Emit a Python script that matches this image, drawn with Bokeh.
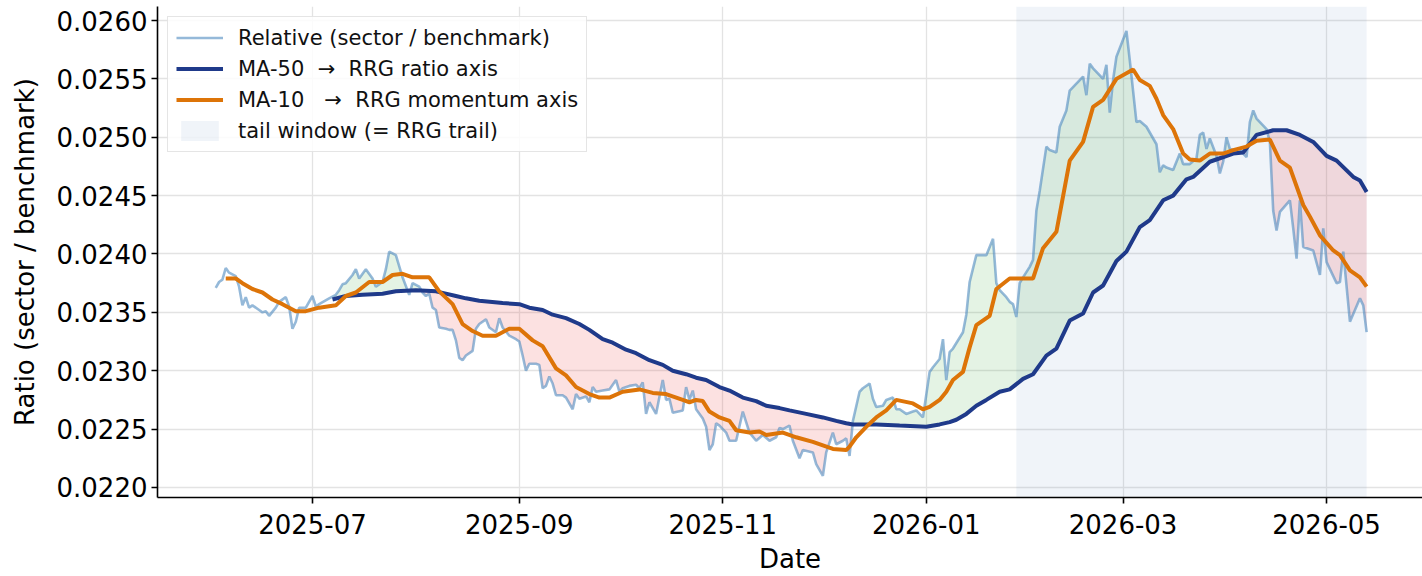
import numpy as np
import pandas as pd
from bokeh.plotting import figure
from bokeh.models import (Range1d, SingleIntervalTicker, NumeralTickFormatter,
                          DatetimeTickFormatter, MonthsTicker, Legend, LegendItem)
from bokeh.embed import file_html
from bokeh.resources import INLINE

# ---------------- data ----------------
rel_dates = [
    "2025-06-02", "2025-06-03", "2025-06-04", "2025-06-05", "2025-06-06", "2025-06-08", "2025-06-09",
    "2025-06-10", "2025-06-11", "2025-06-12", "2025-06-13", "2025-06-15", "2025-06-16", "2025-06-17",
    "2025-06-18", "2025-06-20", "2025-06-21", "2025-06-23", "2025-06-24", "2025-06-25", "2025-06-26",
    "2025-06-27", "2025-06-29", "2025-07-01", "2025-07-02", "2025-07-03", "2025-07-06", "2025-07-08",
    "2025-07-09", "2025-07-10", "2025-07-11", "2025-07-13", "2025-07-14", "2025-07-15", "2025-07-17",
    "2025-07-19", "2025-07-20", "2025-07-22", "2025-07-23", "2025-07-24", "2025-07-26", "2025-07-28",
    "2025-07-30", "2025-07-31", "2025-08-02", "2025-08-03", "2025-08-04", "2025-08-05", "2025-08-06",
    "2025-08-07", "2025-08-08", "2025-08-10", "2025-08-11", "2025-08-12", "2025-08-13", "2025-08-14",
    "2025-08-15", "2025-08-16", "2025-08-18", "2025-08-19", "2025-08-20", "2025-08-22", "2025-08-23",
    "2025-08-25", "2025-08-26", "2025-08-27", "2025-08-29", "2025-08-31", "2025-09-01", "2025-09-02",
    "2025-09-03", "2025-09-04", "2025-09-06", "2025-09-07", "2025-09-08", "2025-09-09", "2025-09-10",
    "2025-09-11", "2025-09-12", "2025-09-14", "2025-09-15", "2025-09-17", "2025-09-18", "2025-09-19",
    "2025-09-21", "2025-09-22", "2025-09-23", "2025-09-24", "2025-09-26", "2025-09-28", "2025-09-30",
    "2025-10-01", "2025-10-02", "2025-10-04", "2025-10-06", "2025-10-07", "2025-10-08", "2025-10-09",
    "2025-10-10", "2025-10-12", "2025-10-14", "2025-10-15", "2025-10-16", "2025-10-17", "2025-10-20",
    "2025-10-21", "2025-10-22", "2025-10-23", "2025-10-24", "2025-10-26", "2025-10-27", "2025-10-28",
    "2025-10-29", "2025-10-30", "2025-10-31", "2025-11-02", "2025-11-03", "2025-11-05", "2025-11-07",
    "2025-11-08", "2025-11-09", "2025-11-11", "2025-11-13", "2025-11-15", "2025-11-17", "2025-11-18",
    "2025-11-19", "2025-11-21", "2025-11-22", "2025-11-24", "2025-11-25", "2025-11-28", "2025-11-29",
    "2025-12-01", "2025-12-02", "2025-12-04", "2025-12-05", "2025-12-07", "2025-12-08", "2025-12-09",
    "2025-12-10", "2025-12-12", "2025-12-13", "2025-12-15", "2025-12-16", "2025-12-17", "2025-12-19",
    "2025-12-20", "2025-12-22", "2025-12-23", "2025-12-24", "2025-12-26", "2025-12-28", "2025-12-29",
    "2025-12-31", "2026-01-02", "2026-01-03", "2026-01-05", "2026-01-06", "2026-01-07", "2026-01-08",
    "2026-01-09", "2026-01-12", "2026-01-13", "2026-01-14", "2026-01-16", "2026-01-19", "2026-01-21",
    "2026-01-22", "2026-01-23", "2026-01-25", "2026-01-26", "2026-01-27", "2026-01-28", "2026-01-29",
    "2026-01-30", "2026-02-01", "2026-02-02", "2026-02-03", "2026-02-04", "2026-02-06", "2026-02-07",
    "2026-02-09", "2026-02-10", "2026-02-12", "2026-02-13", "2026-02-15", "2026-02-17", "2026-02-18",
    "2026-02-19", "2026-02-20", "2026-02-23", "2026-02-24", "2026-02-25", "2026-02-26", "2026-02-27",
    "2026-03-02", "2026-03-03", "2026-03-05", "2026-03-06", "2026-03-08", "2026-03-11", "2026-03-12",
    "2026-03-13", "2026-03-14", "2026-03-16", "2026-03-18", "2026-03-19", "2026-03-21", "2026-03-23",
    "2026-03-24", "2026-03-25", "2026-03-26", "2026-03-27", "2026-03-29", "2026-03-30", "2026-03-31",
    "2026-04-01", "2026-04-02", "2026-04-03", "2026-04-05", "2026-04-06", "2026-04-07", "2026-04-08",
    "2026-04-09", "2026-04-10", "2026-04-12", "2026-04-13", "2026-04-14", "2026-04-15", "2026-04-16",
    "2026-04-17", "2026-04-20", "2026-04-21", "2026-04-22", "2026-04-23", "2026-04-24", "2026-04-27",
    "2026-04-29", "2026-04-30", "2026-05-01", "2026-05-04", "2026-05-05", "2026-05-06", "2026-05-08",
    "2026-05-11", "2026-05-12", "2026-05-13",
]
rel_values = [
    0.02371, 0.02376, 0.02378, 0.02388, 0.02384, 0.02381, 0.02372,
    0.02356, 0.02363, 0.02354, 0.02356, 0.02352, 0.02350, 0.02351,
    0.02347, 0.02354, 0.02359, 0.02363, 0.02355, 0.02336, 0.02342,
    0.02354, 0.02354, 0.02364, 0.02355, 0.02357, 0.02362, 0.02365,
    0.02369, 0.02374, 0.02375, 0.02382, 0.02387, 0.02379, 0.02387,
    0.02379, 0.02372, 0.02376, 0.02387, 0.02402, 0.02399, 0.02380,
    0.02365, 0.02375, 0.02372, 0.02367, 0.02364, 0.02366, 0.02354,
    0.02352, 0.02337, 0.02336, 0.02335, 0.02335, 0.02326, 0.02311,
    0.02309, 0.02313, 0.02317, 0.02336, 0.02340, 0.02344, 0.02337,
    0.02333, 0.02345, 0.02337, 0.02330, 0.02327, 0.02325, 0.02313,
    0.02300, 0.02306, 0.02306, 0.02305, 0.02285, 0.02287, 0.02295,
    0.02289, 0.02279, 0.02279, 0.02277, 0.02267, 0.02280, 0.02276,
    0.02278, 0.02273, 0.02286, 0.02282, 0.02283, 0.02284, 0.02292,
    0.02282, 0.02285, 0.02287, 0.02288, 0.02285, 0.02290, 0.02263,
    0.02273, 0.02263, 0.02292, 0.02275, 0.02276, 0.02264, 0.02266,
    0.02286, 0.02275, 0.02283, 0.02267, 0.02259, 0.02252, 0.02232,
    0.02237, 0.02255, 0.02253, 0.02247, 0.02240, 0.02240, 0.02265,
    0.02256, 0.02247, 0.02240, 0.02245, 0.02240, 0.02243, 0.02251,
    0.02250, 0.02253, 0.02240, 0.02225, 0.02232, 0.02230, 0.02220,
    0.02210, 0.02230, 0.02247, 0.02237, 0.02240, 0.02242, 0.02227,
    0.02257, 0.02282, 0.02285, 0.02289, 0.02276, 0.02269, 0.02270,
    0.02275, 0.02277, 0.02267, 0.02267, 0.02263, 0.02265, 0.02266,
    0.02260, 0.02299, 0.02303, 0.02310, 0.02327, 0.02292, 0.02316,
    0.02319, 0.02333, 0.02348, 0.02376, 0.02399, 0.02399, 0.02413,
    0.02375, 0.02369, 0.02363, 0.02359, 0.02357, 0.02346, 0.02375,
    0.02380, 0.02389, 0.02395, 0.02437, 0.02454, 0.02492, 0.02489,
    0.02487, 0.02509, 0.02523, 0.02540, 0.02546, 0.02552, 0.02536,
    0.02563, 0.02559, 0.02550, 0.02562, 0.02521, 0.02549, 0.02569,
    0.02591, 0.02566, 0.02513, 0.02514, 0.02509, 0.02494, 0.02470,
    0.02476, 0.02474, 0.02472, 0.02486, 0.02477, 0.02477, 0.02482,
    0.02502, 0.02504, 0.02490, 0.02499, 0.02484, 0.02469, 0.02479,
    0.02500, 0.02490, 0.02489, 0.02490, 0.02486, 0.02483, 0.02513,
    0.02523, 0.02516, 0.02510, 0.02507, 0.02496, 0.02437, 0.02420,
    0.02436, 0.02446, 0.02422, 0.02396, 0.02446, 0.02406, 0.02403,
    0.02382, 0.02422, 0.02393, 0.02375, 0.02376, 0.02402, 0.02342,
    0.02362, 0.02356, 0.02333,
]

ma50_dates = [
    "2025-07-07", "2025-07-11", "2025-07-16", "2025-07-22", "2025-07-26", "2025-08-01", "2025-08-07",
    "2025-08-10", "2025-08-13", "2025-08-16", "2025-08-20", "2025-08-27", "2025-09-01", "2025-09-04",
    "2025-09-08", "2025-09-11", "2025-09-15", "2025-09-19", "2025-09-22", "2025-09-26", "2025-09-29",
    "2025-10-03", "2025-10-06", "2025-10-10", "2025-10-14", "2025-10-17", "2025-10-21", "2025-10-24",
    "2025-10-27", "2025-10-31", "2025-11-03", "2025-11-07", "2025-11-11", "2025-11-14", "2025-11-18",
    "2025-11-21", "2025-11-26", "2025-12-01", "2025-12-05", "2025-12-08", "2025-12-10", "2025-12-17",
    "2025-12-24", "2026-01-01", "2026-01-05", "2026-01-08", "2026-01-10", "2026-01-13", "2026-01-16",
    "2026-01-19", "2026-01-23", "2026-01-26", "2026-01-30", "2026-02-02", "2026-02-06", "2026-02-09",
    "2026-02-13", "2026-02-17", "2026-02-20", "2026-02-23", "2026-02-27", "2026-03-02", "2026-03-06",
    "2026-03-09", "2026-03-13", "2026-03-16", "2026-03-20", "2026-03-22", "2026-03-27", "2026-03-30",
    "2026-04-03", "2026-04-06", "2026-04-10", "2026-04-15", "2026-04-19", "2026-04-23", "2026-04-27",
    "2026-05-01", "2026-05-04", "2026-05-09", "2026-05-11", "2026-05-13",
]
ma50_values = [
    0.02361, 0.02364, 0.02365, 0.02366, 0.02368, 0.02369, 0.02368,
    0.02366, 0.02364, 0.02362, 0.02360, 0.02358, 0.02357, 0.02354,
    0.02352, 0.02348, 0.02345, 0.02340, 0.02335, 0.02327, 0.02324,
    0.02318, 0.02315, 0.02309, 0.02305, 0.02300, 0.02297, 0.02294,
    0.02292, 0.02286, 0.02283, 0.02277, 0.02274, 0.02270, 0.02268,
    0.02266, 0.02263, 0.02260, 0.02257, 0.02255, 0.02254, 0.02254,
    0.02253, 0.02252, 0.02254, 0.02256, 0.02258, 0.02263, 0.02270,
    0.02275, 0.02282, 0.02284, 0.02293, 0.02297, 0.02313, 0.02319,
    0.02343, 0.02349, 0.02367, 0.02373, 0.02394, 0.02402, 0.02423,
    0.02429, 0.02446, 0.02450, 0.02464, 0.02466, 0.02479, 0.02482,
    0.02486, 0.02487, 0.02502, 0.02506, 0.02506, 0.02502, 0.02496,
    0.02484, 0.02480, 0.02466, 0.02463, 0.02453,
]

ma10_dates = [
    "2025-06-05", "2025-06-08", "2025-06-10", "2025-06-13", "2025-06-16", "2025-06-19", "2025-06-22",
    "2025-06-24", "2025-06-26", "2025-06-29", "2025-07-03", "2025-07-08", "2025-07-11", "2025-07-14",
    "2025-07-18", "2025-07-22", "2025-07-25", "2025-07-28", "2025-07-31", "2025-08-05", "2025-08-08",
    "2025-08-12", "2025-08-15", "2025-08-18", "2025-08-21", "2025-08-25", "2025-08-29", "2025-09-01",
    "2025-09-05", "2025-09-08", "2025-09-12", "2025-09-15", "2025-09-18", "2025-09-22", "2025-09-25",
    "2025-09-28", "2025-10-02", "2025-10-07", "2025-10-11", "2025-10-15", "2025-10-20", "2025-10-22",
    "2025-10-24", "2025-10-26", "2025-10-28", "2025-10-31", "2025-11-03", "2025-11-05", "2025-11-09",
    "2025-11-12", "2025-11-14", "2025-11-19", "2025-11-23", "2025-11-28", "2025-12-01", "2025-12-04",
    "2025-12-08", "2025-12-09", "2025-12-11", "2025-12-14", "2025-12-17", "2025-12-20", "2025-12-23",
    "2025-12-28", "2025-12-31", "2026-01-02", "2026-01-05", "2026-01-07", "2026-01-09", "2026-01-12",
    "2026-01-14", "2026-01-16", "2026-01-20", "2026-01-22", "2026-01-26", "2026-02-02", "2026-02-05",
    "2026-02-09", "2026-02-13", "2026-02-17", "2026-02-20", "2026-02-23", "2026-02-27", "2026-03-04",
    "2026-03-06", "2026-03-09", "2026-03-11", "2026-03-13", "2026-03-16", "2026-03-19", "2026-03-21",
    "2026-03-24", "2026-03-27", "2026-03-31", "2026-04-03", "2026-04-07", "2026-04-10", "2026-04-14",
    "2026-04-17", "2026-04-20", "2026-04-24", "2026-04-26", "2026-04-29", "2026-05-03", "2026-05-05",
    "2026-05-08", "2026-05-11", "2026-05-13",
]
ma10_values = [
    0.02379, 0.02379, 0.02375, 0.02370, 0.02367, 0.02361, 0.02357,
    0.02354, 0.02351, 0.02351, 0.02354, 0.02356, 0.02364, 0.02367,
    0.02376, 0.02376, 0.02382, 0.02383, 0.02380, 0.02380, 0.02368,
    0.02357, 0.02340, 0.02334, 0.02330, 0.02330, 0.02336, 0.02336,
    0.02326, 0.02321, 0.02302, 0.02296, 0.02286, 0.02280, 0.02277,
    0.02277, 0.02282, 0.02284, 0.02281, 0.02280, 0.02275, 0.02273,
    0.02275, 0.02274, 0.02265, 0.02260, 0.02257, 0.02249, 0.02247,
    0.02248, 0.02245, 0.02247, 0.02243, 0.02239, 0.02236, 0.02233,
    0.02232, 0.02235, 0.02243, 0.02252, 0.02260, 0.02266, 0.02275,
    0.02272, 0.02267, 0.02269, 0.02275, 0.02282, 0.02292, 0.02299,
    0.02320, 0.02339, 0.02347, 0.02370, 0.02379, 0.02379, 0.02405,
    0.02419, 0.02480, 0.02496, 0.02526, 0.02532, 0.02550, 0.02558,
    0.02549, 0.02544, 0.02533, 0.02519, 0.02507, 0.02486, 0.02481,
    0.02480, 0.02486, 0.02486, 0.02489, 0.02492, 0.02497, 0.02498,
    0.02480, 0.02474, 0.02442, 0.02432, 0.02416, 0.02403, 0.02399,
    0.02386, 0.02380, 0.02372,
]

tail_window = ["2026-01-28", "2026-05-13"]
y_tick_step = 0.0005
x_tick_months = [0, 2, 4, 6, 8, 10]

labels = ["Relative (sector / benchmark)", "MA-50  \u2192  RRG ratio axis",
          "MA-10   \u2192  RRG momentum axis", "tail window (= RRG trail)"]

# ---------------- styling ----------------
FONT = "DejaVu Sans"
C_REL = "#4f8bc0"
C_MA50 = "#1f3a8a"
C_MA10 = "#dd7408"
C_GREEN = "#2ca02c"
C_RED = "#ef4444"
C_TAIL = "#3b6db3"

rel_t = pd.to_datetime(rel_dates)
ma50_t = pd.to_datetime(ma50_dates)
ma10_t = pd.to_datetime(ma10_dates)

def ms(t):
    return (pd.DatetimeIndex(t).asi8 // 10**6).astype(float)

rel_ms, ma50_ms = ms(rel_t), ms(ma50_t)
rel_v = np.array(rel_values)
ma50_v = np.array(ma50_values)

# fill between relative and MA-50 (where MA-50 exists)
grid = np.union1d(rel_ms[(rel_ms >= ma50_ms[0]) & (rel_ms <= ma50_ms[-1])], ma50_ms)
r = np.interp(grid, rel_ms, rel_v)
m = np.interp(grid, ma50_ms, ma50_v)
xs, rs, msv = [grid[0]], [r[0]], [m[0]]
for i in range(1, len(grid)):
    d0, d1 = r[i - 1] - m[i - 1], r[i] - m[i]
    if d0 * d1 < 0:
        t = d0 / (d0 - d1)
        xc = grid[i - 1] + t * (grid[i] - grid[i - 1])
        yc = m[i - 1] + t * (m[i] - m[i - 1])
        xs.append(xc); rs.append(yc); msv.append(yc)
    xs.append(grid[i]); rs.append(r[i]); msv.append(m[i])
xs, rs, msv = np.array(xs), np.array(rs), np.array(msv)

# ranges (matching the reference's scale)
x_start = pd.Timestamp("2025-05-15 13:00")
x_end = pd.Timestamp("2026-05-29 18:00")
y_start, y_end = 0.021914, 0.026120

p = figure(width=1422, height=576, x_axis_type="datetime",
           x_range=Range1d(x_start, x_end), y_range=Range1d(y_start, y_end),
           output_backend="svg", toolbar_location=None,
           min_border_left=157, min_border_right=0, min_border_top=6, min_border_bottom=79)
p.outline_line_color = None
p.background_fill_color = "white"

# tail window
tail = p.quad(left=[pd.Timestamp(tail_window[0])], right=[pd.Timestamp(tail_window[1])],
              bottom=[y_start], top=[y_end], fill_color=C_TAIL, fill_alpha=0.075,
              line_color=None)

p.varea(x=xs, y1=msv, y2=np.maximum(rs, msv), fill_color=C_GREEN, fill_alpha=0.13)
p.varea(x=xs, y1=np.minimum(rs, msv), y2=msv, fill_color=C_RED, fill_alpha=0.16)

l_rel = p.line(rel_t, rel_values, line_color=C_REL, line_alpha=0.6, line_width=2.6)
l_50 = p.line(ma50_t, ma50_values, line_color=C_MA50, line_width=4)
l_10 = p.line(ma10_t, ma10_values, line_color=C_MA10, line_width=4)

legend = Legend(items=[LegendItem(label=labels[0], renderers=[l_rel]),
                       LegendItem(label=labels[1], renderers=[l_50]),
                       LegendItem(label=labels[2], renderers=[l_10]),
                       LegendItem(label=labels[3], renderers=[tail])],
                location="top_left")
legend.label_text_font = FONT
legend.label_text_font_size = "21px"
legend.label_text_color = "#111111"
legend.glyph_width = 47
legend.glyph_height = 25
legend.label_height = 25
legend.spacing = 6
legend.padding = 8
legend.margin = 10
legend.label_standoff = 15
legend.border_line_color = "#cccccc"
legend.border_line_width = 1.5
legend.background_fill_alpha = 0.85
p.add_layout(legend)

# axes
p.yaxis.ticker = SingleIntervalTicker(interval=y_tick_step)
p.yaxis.formatter = NumeralTickFormatter(format="0.0000")
p.xaxis.ticker = MonthsTicker(months=x_tick_months)
p.xaxis.formatter = DatetimeTickFormatter(months="%Y-%m", days="%Y-%m", years="%Y-%m")
p.xaxis.axis_label = "Date"
p.yaxis.axis_label = "Ratio (sector / benchmark)"
for ax in (p.xaxis, p.yaxis):
    ax.axis_label_text_font = FONT
    ax.axis_label_text_font_size = "26px"
    ax.axis_label_text_font_style = "normal"
    ax.axis_label_text_color = "black"
    ax.major_label_text_font = FONT
    ax.major_label_text_font_size = "26px"
    ax.major_label_text_color = "black"
    ax.axis_line_width = 1.6
    ax.axis_line_color = "black"
    ax.major_tick_line_width = 1.6
    ax.major_tick_out = 6
    ax.major_tick_in = 0
    ax.minor_tick_line_color = None
p.xaxis.major_label_standoff = 10
p.xaxis.axis_label_standoff = 7
p.yaxis.major_label_standoff = 4
p.yaxis.axis_label_standoff = 14

p.xgrid.grid_line_color = "#e3e3e3"
p.ygrid.grid_line_color = "#e3e3e3"
p.xgrid.grid_line_width = 1.3
p.ygrid.grid_line_width = 1.3

open("out.html", "w").write(file_html(p, INLINE))
